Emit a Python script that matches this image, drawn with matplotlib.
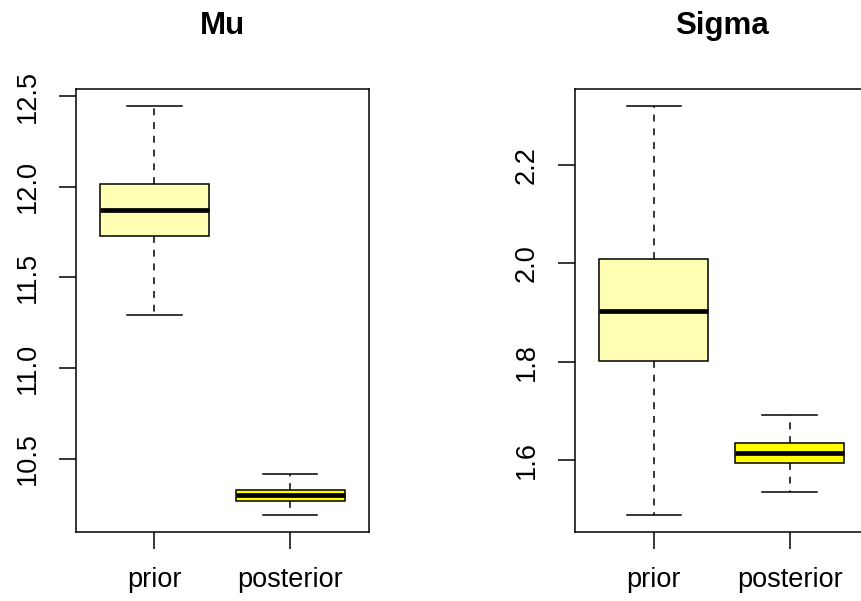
import matplotlib
matplotlib.use("Agg")
import matplotlib.pyplot as plt

plt.rcParams["font.family"] = ["Liberation Sans", "DejaVu Sans"]

# box summaries: lower whisker, Q1, median, Q3, upper whisker
groups = ["prior", "posterior"]
fills = ["#FFFFB3", "#FFFF00"]

mu_low = [11.29, 10.187]
mu_q1 = [11.726, 10.268]
mu_med = [11.873, 10.298]
mu_q3 = [12.015, 10.327]
mu_high = [12.447, 10.413]
mu_ticks = [10.5, 11.0, 11.5, 12.0, 12.5]

sigma_low = [1.487, 1.535]
sigma_q1 = [1.802, 1.593]
sigma_med = [1.904, 1.614]
sigma_q3 = [2.0096, 1.634]
sigma_high = [2.321, 1.692]
sigma_ticks = [1.6, 1.8, 2.0, 2.2]

LW = 1.1


def draw_panel(ax, title, low, q1, med, q3, high, ticks):
    stats = []
    for i in range(len(groups)):
        stats.append({"whislo": low[i], "q1": q1[i], "med": med[i],
                      "q3": q3[i], "whishi": high[i], "label": groups[i]})
    parts = ax.bxp(stats, positions=[1, 2], widths=0.8, capwidths=0.4,
                   showfliers=False, patch_artist=True,
                   boxprops=dict(edgecolor="black", linewidth=LW),
                   medianprops=dict(color="black", linewidth=3.4, solid_capstyle="butt"),
                   whiskerprops=dict(color="black", linewidth=LW, linestyle=(0, (4.5, 4.5))),
                   capprops=dict(color="black", linewidth=LW))
    for box, c in zip(parts["boxes"], fills):
        box.set_facecolor(c)

    # R style limits: 4% padding around the data range
    lo, hi = min(low), max(high)
    span = hi - lo
    ax.set_ylim(lo - 0.04 * span, hi + 0.04 * span)
    ax.set_xlim(0.42, 2.58)
    ax.set_yticks(ticks)
    ax.set_yticklabels(["%.1f" % t for t in ticks], rotation=90, va="center")
    ax.set_xticks([1, 2])
    ax.set_xticklabels(groups)
    ax.tick_params(length=12.2, width=LW, pad=13, labelsize=19.5, colors="black")
    for s in ax.spines.values():
        s.set_linewidth(LW)
    ax.set_title(title, fontsize=22.5, fontweight="bold", pad=40)


fig = plt.figure(figsize=(8.62, 6.01), dpi=100)
ax1 = fig.add_axes([0.0878, 0.1153, 0.3404, 0.7361])
ax2 = fig.add_axes([0.667, 0.1153, 0.3404, 0.7361])

draw_panel(ax1, "Mu", mu_low, mu_q1, mu_med, mu_q3, mu_high, mu_ticks)
draw_panel(ax2, "Sigma", sigma_low, sigma_q1, sigma_med, sigma_q3, sigma_high, sigma_ticks)

fig.savefig("out.png", dpi=100)
